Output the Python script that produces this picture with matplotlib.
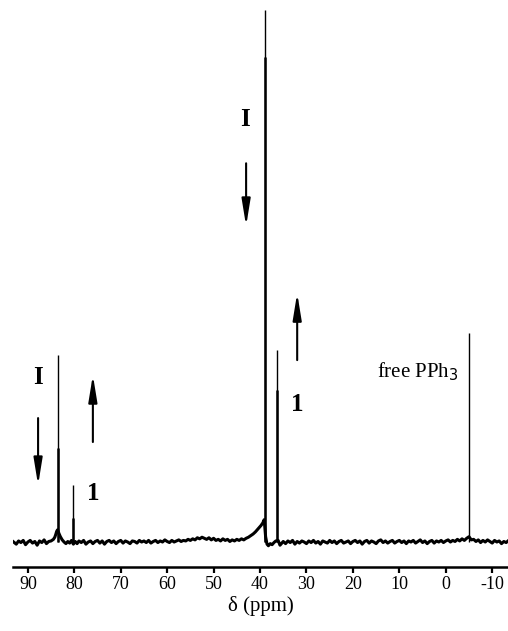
import matplotlib.pyplot as plt
import numpy as np

# baseline trace (ppm, intensity), 16 points per row
base_ppm = [93.2, 92.5, 92, 91.5, 91, 90.5, 90, 89.5, 89, 88.5, 88, 87.5, 87, 86.5, 86, 85.5,
            85, 84.5, 84.2, 84.0, 83.8, 83.6, 83.3, 83.0, 82.6, 82.2, 81.8, 81.4, 81, 80.6, 80.2, 79.8,
            79.4, 79, 78.5, 78, 77.5, 77, 76.5, 76, 75.5, 75, 74.5, 74, 73.5, 73, 72.5, 72,
            71.5, 71, 70.5, 70, 69.5, 69, 68.5, 68, 67.5, 67, 66.5, 66, 65.5, 65, 64.5, 64,
            63.5, 63, 62.5, 62, 61.5, 61, 60.5, 60, 59.5, 59, 58.5, 58, 57.5, 57, 56.5, 56,
            55.5, 55, 54.5, 54, 53.5, 53, 52.5, 52, 51.5, 51, 50.5, 50, 49.5, 49, 48.5, 48,
            47.5, 47, 46.5, 46, 45.5, 45, 44.5, 44, 43.5, 43, 42.5, 42, 41.5, 41, 40.6, 40.2,
            39.8, 39.4, 39.1, 38.8, 38.5, 38.2, 37.8, 37.4, 37, 36.6, 36.1, 35.7, 35.3, 35, 34.5, 34,
            33.5, 33, 32.5, 32, 31.5, 31, 30.5, 30, 29.5, 29, 28.5, 28, 27.5, 27, 26.5, 26,
            25.5, 25, 24.5, 24, 23.5, 23, 22.5, 22, 21.5, 21, 20.5, 20, 19.5, 19, 18.5, 18,
            17.5, 17, 16.5, 16, 15.5, 15, 14.5, 14, 13.5, 13, 12.5, 12, 11.5, 11, 10.5, 10,
            9.5, 9, 8.5, 8, 7.5, 7, 6.5, 6, 5.5, 5, 4.5, 4, 3.5, 3, 2.5, 2,
            1.5, 1, 0.5, 0, -0.5, -1, -1.5, -2, -2.5, -3, -3.5, -4, -4.5, -5, -5.5, -6,
            -6.5, -7, -7.5, -8, -8.5, -9, -9.5, -10, -10.5, -11, -11.5, -12, -12.5, -13, -13.4]
base_int = [0.1, -0.4, 0.2, -0.1, 0.3, -0.5, 0.0, 0.3, -0.2, 0.1, -0.6, 0.2, -0.1, 0.4, -0.3, 0.1,
            0.2, 0.5, 0.9, 1.4, 2.0, 2.3, 1.6, 1.0, 0.4, 0.0, -0.3, 0.1, -0.2, 0.3, -0.4, 0.1,
            -0.3, 0.2, -0.1, 0.3, -0.4, 0.0, 0.2, -0.3, 0.1, 0.3, -0.2, 0.2, -0.4, 0.1, 0.3, -0.1,
            0.2, -0.3, 0.1, 0.3, -0.2, 0.2, 0.0, -0.3, 0.2, 0.1, -0.2, 0.3, 0.0, 0.2, -0.1, 0.3,
            -0.2, 0.1, 0.3, -0.1, 0.2, 0.0, 0.4, 0.1, -0.1, 0.3, 0.0, 0.2, 0.4, 0.1, 0.3, 0.2,
            0.5, 0.3, 0.6, 0.4, 0.8, 0.6, 0.9, 0.7, 0.5, 0.8, 0.4, 0.7, 0.3, 0.5, 0.2, 0.6,
            0.3, 0.5, 0.1, 0.4, 0.2, 0.5, 0.3, 0.6, 0.4, 0.7, 0.9, 1.2, 1.5, 1.9, 2.3, 2.7,
            3.1, 3.6, 4.2, 1.0, -0.4, -0.7, -0.3, -0.5, -0.1, 0.2, 0.3, -0.6, -0.2, 0.1, -0.3, 0.2,
            -0.1, 0.3, -0.4, 0.1, -0.2, 0.2, 0.0, -0.3, 0.2, -0.1, 0.3, -0.2, 0.1, -0.4, 0.2, 0.0,
            -0.2, 0.3, -0.1, 0.2, -0.3, 0.1, 0.3, -0.2, 0.0, 0.2, -0.3, 0.1, 0.3, -0.1, 0.2, -0.4,
            0.1, 0.3, -0.2, 0.2, 0.0, -0.3, 0.2, 0.4, -0.1, 0.2, -0.2, 0.1, 0.3, -0.2, 0.1, 0.3,
            -0.1, 0.2, -0.3, 0.2, 0.0, 0.3, -0.2, 0.1, 0.4, -0.1, 0.2, -0.3, 0.1, 0.3, -0.2, 0.2,
            0.0, 0.3, -0.1, 0.2, 0.4, 0.0, 0.3, 0.1, 0.5, 0.2, 0.6, 0.3, 0.7, 1.0, 0.4, 0.5,
            0.1, 0.4, -0.1, 0.3, 0.0, 0.4, 0.1, -0.2, 0.3, 0.0, 0.2, -0.3, 0.1, -0.1, 0.2]

# sharp lines: tall thin component + thicker shoulder
peak_ppm = [83.55, 80.3, 38.95, 36.35, -5.0]
peak_top = [35.2, 10.7, 100.0, 36.1, 39.3]
shoulder_ppm = [83.45, 80.2, 38.85, 36.25]
shoulder_top = [17.7, 4.5, 91.2, 28.6]

tick_vals = [90, 80, 70, 60, 50, 40, 30, 20, 10, 0, -10]
tick_labels = ["90", "80", "70", "60", "50", "40", "30", "20", "10", "0", "-10"]

plt.rcParams["font.family"] = ["Liberation Serif", "DejaVu Serif"]

fig = plt.figure(figsize=(5.08, 6.31), dpi=100)
ax = fig.add_axes([0.0256, 0.1014, 0.9744, 0.8986])

ax.plot(base_ppm, base_int, color="black", lw=2.2, solid_joinstyle="round")
ax.vlines(peak_ppm, 0, peak_top, color="black", lw=1.0)
ax.vlines(shoulder_ppm, 0, shoulder_top, color="black", lw=1.8)

ax.set_xlim(93.2, -13.4)
ax.set_ylim(-4.7, 101.9)

for side in ["left", "top", "right"]:
    ax.spines[side].set_visible(False)
ax.spines["bottom"].set_linewidth(1.8)
ax.set_yticks([])
ax.set_xticks(tick_vals)
ax.set_xticklabels(tick_labels)
ax.tick_params(axis="x", direction="out", length=4.5, width=1.6, labelsize=13, pad=2)
ax.set_xlabel("δ (ppm)", fontsize=15, labelpad=2)

bold = dict(fontsize=18, fontweight="bold", ha="center", va="center")
ax.text(87.8, 31.0, "I", **bold)
ax.text(43.2, 79.5, "I", **bold)
ax.text(76.0, 9.2, "1", **bold)
ax.text(32.0, 25.8, "1", **bold)
ax.text(-2.7, 32.0, "free PPh$_3$", fontsize=15, ha="right", va="center")

arrow = dict(arrowstyle="-|>,head_length=1.6,head_width=0.26", mutation_scale=10,
             lw=1.5, color="black", shrinkA=0, shrinkB=0)
ax.annotate("", xy=(87.8, 10.7), xytext=(87.8, 23.3), arrowprops=arrow)
ax.annotate("", xy=(76.0, 31.4), xytext=(76.0, 18.8), arrowprops=arrow)
ax.annotate("", xy=(43.0, 59.4), xytext=(43.0, 71.2), arrowprops=arrow)
ax.annotate("", xy=(32.0, 46.8), xytext=(32.0, 34.2), arrowprops=arrow)

fig.savefig("out.png", dpi=100)
